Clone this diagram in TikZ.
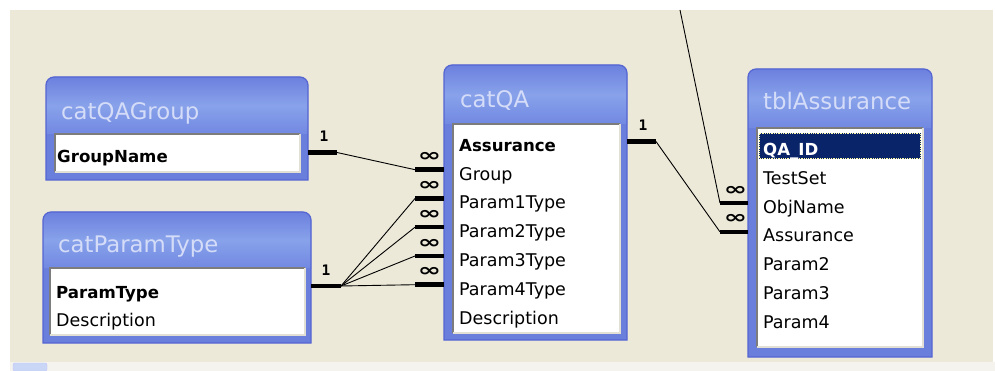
\documentclass[tikz,border=0pt]{standalone}
\usepackage{fontspec}
\setmainfont{DejaVu Sans}
\newfontfamily\cardfont{DejaVu Sans Mono}
\usetikzlibrary{calc}

\definecolor{paper}{HTML}{ECE9D8}
\definecolor{strip}{HTML}{F4F3EE}
\definecolor{tblfill}{HTML}{6A7EDC}
\definecolor{tbledge}{HTML}{5565D2}
\definecolor{headtop}{HTML}{6C80DE}
\definecolor{headmid}{HTML}{88A2EA}
\definecolor{headbot}{HTML}{7288E2}
\definecolor{titletext}{HTML}{D4DCF8}
\definecolor{selnavy}{HTML}{0A246A}
\definecolor{sunkdark}{HTML}{7C7C7C}
\definecolor{sunklight}{HTML}{E2DFD4}
\definecolor{scrollbtn}{HTML}{C9D6F6}

% blue table frame: name, x1, y1, x2, y2, top of the field list
\newcommand{\dbframe}[6]{%
  \coordinate (#1-nw) at (#2,#3);
  \coordinate (#1-se) at (#4,#5);
  \fill[tblfill] (#2,#5) -- (#2,#3+8) arc[start angle=180, end angle=270, radius=8]
    -- (#4-8,#3) arc[start angle=270, end angle=360, radius=8] -- (#4,#5) -- cycle;
  \shade[top color=headtop, bottom color=headbot, middle color=headmid]
    (#2,#6) -- (#2,#3+8) arc[start angle=180, end angle=270, radius=8]
    -- (#4-8,#3) arc[start angle=270, end angle=360, radius=8] -- (#4,#6) -- cycle;
  \draw[tbledge, line width=1.2pt] (#2,#5) -- (#2,#3+8) arc[start angle=180, end angle=270, radius=8]
    -- (#4-8,#3) arc[start angle=270, end angle=360, radius=8] -- (#4,#5) -- cycle;
}
% 3D edge round a field list
\newcommand{\sunken}[1]{%
  \draw[sunkdark, line width=2pt] (#1.south west) -- (#1.north west) -- (#1.north east);
  \draw[sunklight, line width=2pt] (#1.north east) -- (#1.south east) -- (#1.south west);
}

\begin{document}
\begin{tikzpicture}[x=1pt, y=-1pt,
    tname/.style={anchor=base west, inner sep=0, text=titletext, font=\fontsize{22.8}{22.8}\selectfont},
    tlist/.style={anchor=north west, fill=white, inner sep=0},
    field/.style={anchor=base west, inner sep=0, font=\fontsize{17.5}{17.5}\selectfont},
    keyfield/.style={field, font=\fontsize{16.6}{16.6}\selectfont\bfseries},
    stub/.style={line width=4.5pt},
    link/.style={line width=0.9pt},
    one/.style={above=8.5pt, inner sep=0, font=\cardfont\bfseries\fontsize{14.5}{14.5}\selectfont},
    many/.style={yshift=12.5pt, inner sep=0, font=\bfseries\fontsize{18}{18}\selectfont}]

\useasboundingbox (0,0) rectangle (995,371);

% ===================== WORKSPACE =====================
\fill[white] (0,0) rectangle (995,371);
\fill[paper] (10,10) rectangle (993,362);
\fill[strip] (10,362) rectangle (995,371);
\filldraw[fill=scrollbtn, draw=blue!25, rounded corners=2pt] (13,363) rectangle (47,371);

% ===================== catQAGroup =====================
\dbframe{grp}{46}{77}{308}{180}{134}
\node[tlist, minimum width=245pt, minimum height=38pt] (grp-list) at (55,134) {};
\sunken{grp-list}
\node[tname] (grp-title) at (61,119.3) {catQAGroup};
\node[keyfield] (grp-name) at (57,163) {GroupName};

% ===================== catParamType =====================
\dbframe{ptype}{43}{212}{311}{343}{268}
\node[tlist, minimum width=255pt, minimum height=67pt] (ptype-list) at (50,268) {};
\sunken{ptype-list}
\node[tname] (ptype-title) at (58,252.7) {catParamType};
\node[keyfield] (ptype-name) at (56,298) {ParamType};
\node[field] (ptype-desc) at (56,326) {Description};

% ===================== catQA =====================
\dbframe{qa}{444}{65}{627}{340}{124}
\node[tlist, minimum width=167pt, minimum height=209pt] (qa-list) at (453,124) {};
\sunken{qa-list}
\node[tname] (qa-title) at (460,107.3) {catQA};
\node[keyfield] (qa-assurance) at (459,151.5) {Assurance};
\node[field] (qa-group) at (459,180.2) {Group};
\node[field] (qa-p1) at (459,209) {Param1Type};
\node[field] (qa-p2) at (459,237.7) {Param2Type};
\node[field] (qa-p3) at (459,266.5) {Param3Type};
\node[field] (qa-p4) at (459,295.2) {Param4Type};
\node[field] (qa-desc) at (459,324) {Description};

% ===================== tblAssurance =====================
\dbframe{as}{748}{69}{932}{357}{128}
\node[tlist, minimum width=166pt, minimum height=219pt] (as-list) at (757,128) {};
\sunken{as-list}
\node[tname] (as-title) at (763,110) {tblAssurance};
% selected key field
\fill[selnavy] (759,133) rectangle (921,159);
\draw[yellow!35!white, densely dotted, line width=1.3pt] (759.5,133.5) rectangle (920.5,158.5);
\node[keyfield, text=white] (as-id) at (763,155.5) {QA\_ID};
\node[field] (as-testset) at (763,184.3) {TestSet};
\node[field] (as-objname) at (763,213.1) {ObjName};
\node[field] (as-assurance) at (763,241.9) {Assurance};
\node[field] (as-p2) at (763,270.7) {Param2};
\node[field] (as-p3) at (763,299.5) {Param3};
\node[field] (as-p4) at (763,328.3) {Param4};

% ===================== RELATIONSHIPS =====================
% catQAGroup.GroupName -> catQA.Group
\draw[stub] ($(grp-se |- grp-name.base)+(0,-10.5)$) -- ++(29,0)
    node[one, pos=0.55] {1} coordinate (grp-out);
\draw[stub] ($(qa-nw |- qa-group.base)+(0,-10.5)$) -- ++(-29,0)
    node[many, pos=0.5] {\scalebox{1.55}[1]{∞}} coordinate (qa-group-in);
\draw[link] (grp-out) -- (qa-group-in);

% catParamType.ParamType -> catQA.Param1Type .. Param4Type
\draw[stub] ($(ptype-se |- ptype-name.base)+(0,-12)$) -- ++(30,0)
    node[one, pos=0.5] {1} coordinate (ptype-out);
\draw[stub] ($(qa-nw |- qa-p1.base)+(0,-10.5)$) -- ++(-29,0)
    node[many, pos=0.5] {\scalebox{1.55}[1]{∞}} coordinate (qa-p1-in);
\draw[stub] ($(qa-nw |- qa-p2.base)+(0,-10.5)$) -- ++(-29,0)
    node[many, pos=0.5] {\scalebox{1.55}[1]{∞}} coordinate (qa-p2-in);
\draw[stub] ($(qa-nw |- qa-p3.base)+(0,-10.5)$) -- ++(-29,0)
    node[many, pos=0.5] {\scalebox{1.55}[1]{∞}} coordinate (qa-p3-in);
\draw[stub] ($(qa-nw |- qa-p4.base)+(0,-10.5)$) -- ++(-29,0)
    node[many, pos=0.5] {\scalebox{1.55}[1]{∞}} coordinate (qa-p4-in);
\draw[link] (ptype-out) -- (qa-p1-in);
\draw[link] (ptype-out) -- (qa-p2-in);
\draw[link] (ptype-out) -- (qa-p3-in);
\draw[link] (ptype-out) -- (qa-p4-in);

% catQA.Assurance -> tblAssurance.Assurance
\draw[stub] ($(qa-se |- qa-assurance.base)+(0,-10)$) -- ++(29,0)
    node[one, pos=0.55] {1} coordinate (qa-out);
\draw[stub] ($(as-nw |- as-assurance.base)+(0,-10)$) -- ++(-28,0)
    node[many, pos=0.45] {\scalebox{1.55}[1]{∞}} coordinate (as-assurance-in);
\draw[link] (qa-out) -- (as-assurance-in);

% link from a table above the view -> tblAssurance.ObjName
\coordinate (upstream) at (680,10);
\draw[stub] ($(as-nw |- as-objname.base)+(0,-10)$) -- ++(-28,0)
    node[many, pos=0.45] {\scalebox{1.55}[1]{∞}} coordinate (as-objname-in);
\draw[link] (upstream) -- (as-objname-in);

\end{tikzpicture}
\end{document}
